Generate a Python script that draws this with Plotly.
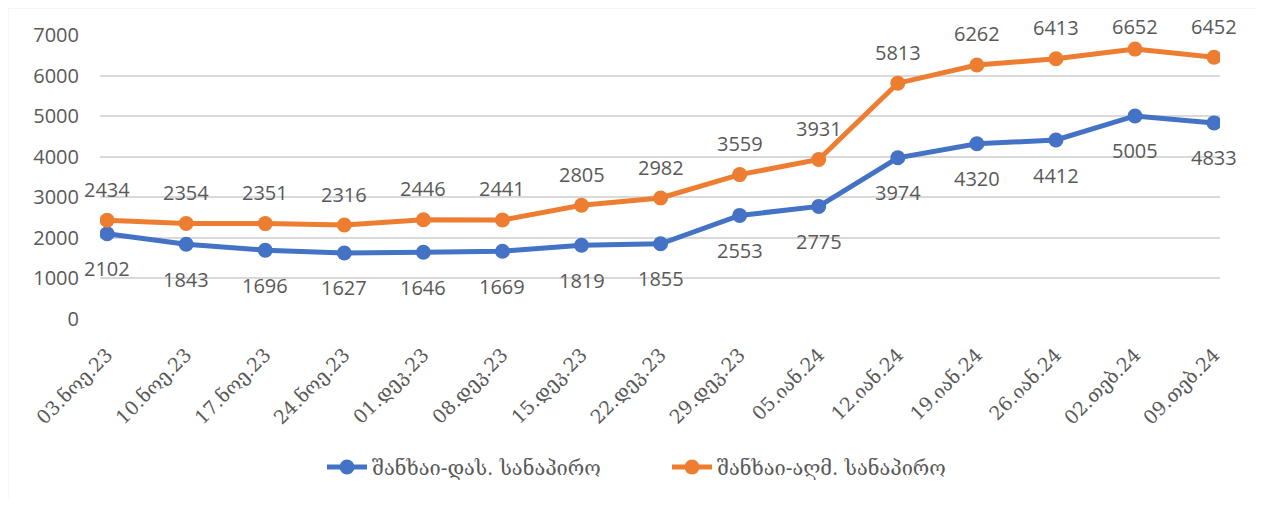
import plotly.graph_objects as go

categories = ["03.ნოე.23", "10.ნოე.23", "17.ნოე.23", "24.ნოე.23", "01.დეკ.23",
              "08.დეკ.23", "15.დეკ.23", "22.დეკ.23", "29.დეკ.23", "05.იან.24",
              "12.იან.24", "19.იან.24", "26.იან.24", "02.თებ.24", "09.თებ.24"]
west = [2102, 1843, 1696, 1627, 1646, 1669, 1819, 1855, 2553, 2775, 3974, 4320, 4412, 5005, 4833]
east = [2434, 2354, 2351, 2316, 2446, 2441, 2805, 2982, 3559, 3931, 5813, 6262, 6413, 6652, 6452]
name_west = "შანხაი-დას. სანაპირო"
name_east = "შანხაი-აღმ. სანაპირო"
yticks = [0, 1000, 2000, 3000, 4000, 5000, 6000, 7000]

BLUE = "#4472C4"
ORANGE = "#ED7D31"
TXT = "#595959"
GRID = "#D9D9D9"
NUMFONT = "Open Sans"
GEOFONT = "DejaVu Serif"

xs = list(range(len(categories)))

fig = go.Figure()
fig.add_trace(go.Scatter(x=xs, y=west, name=name_west, mode="lines+markers",
                         line=dict(color=BLUE, width=5),
                         marker=dict(color=BLUE, size=15)))
fig.add_trace(go.Scatter(x=xs, y=east, name=name_east, mode="lines+markers",
                         line=dict(color=ORANGE, width=5),
                         marker=dict(color=ORANGE, size=15)))

# page has an 8px body margin: figure is offset by (8, 8)
OFF = 8
W, H = 1264 - 2 * OFF, 506 - 2 * OFF
plot_left, plot_right, plot_top, plot_bottom = 100 - OFF, 1220 - OFF, 35 - OFF, 319 - OFF
L, R, T, B = plot_left, W - plot_right, plot_top, H - plot_bottom
pw = W - L - R
ph = H - T - B
YMAX = 7000

def px_x(p):
    return (p - OFF - L) / pw

def px_y(p):
    return (H - B - (p - OFF)) / ph

annotations = []
for i, v in enumerate(east):
    # keep label inside chart area (labels near the top are pulled down, like Excel)
    above_top = (YMAX - v) / YMAX * ph  # px from plot top down to point
    shift = min(31, above_top + (T - 18))
    annotations.append(dict(x=i, y=v, text=str(v), showarrow=False, yshift=shift,
                            font=dict(family=NUMFONT, size=20, color=TXT)))
for i, v in enumerate(west):
    annotations.append(dict(x=i, y=v, text=str(v), showarrow=False, yshift=-35,
                            font=dict(family=NUMFONT, size=20, color=TXT)))

shapes = [
    dict(type="line", xref="paper", yref="paper", x0=px_x(7.5), x1=px_x(7.5), y0=px_y(7), y1=px_y(600),
         line=dict(color=GRID, width=1.5)),
    dict(type="line", xref="paper", yref="paper", x0=px_x(7), x1=px_x(1400), y0=px_y(7.5), y1=px_y(7.5),
         line=dict(color=GRID, width=1.5)),
]

fig.update_layout(
    width=W, height=H,
    margin=dict(l=L, r=R, t=T, b=B, autoexpand=False),
    paper_bgcolor="white", plot_bgcolor="white",
    annotations=annotations,
    shapes=shapes,
    showlegend=True,
    legend=dict(orientation="h", x=px_x(322), xanchor="left", y=px_y(467), yanchor="middle",
                font=dict(family=GEOFONT, size=20, color=TXT), itemwidth=40,
                entrywidth=290, entrywidthmode="pixels", tracegroupgap=0),
    xaxis=dict(tickmode="array", tickvals=xs, ticktext=categories, tickangle=-45,
               range=[-0.09, 14.075], showgrid=False, zeroline=False, showline=False,
               ticklabelstandoff=20,
               tickfont=dict(family=GEOFONT, size=19, color=TXT), ticks=""),
    yaxis=dict(range=[0, YMAX], tickvals=yticks, showgrid=True, gridcolor=GRID, gridwidth=1.5,
               zeroline=False, showline=False, ticks="", ticklabelstandoff=20,
               tickfont=dict(family=NUMFONT, size=20, color=TXT)),
)

fig.write_html("out.html")
